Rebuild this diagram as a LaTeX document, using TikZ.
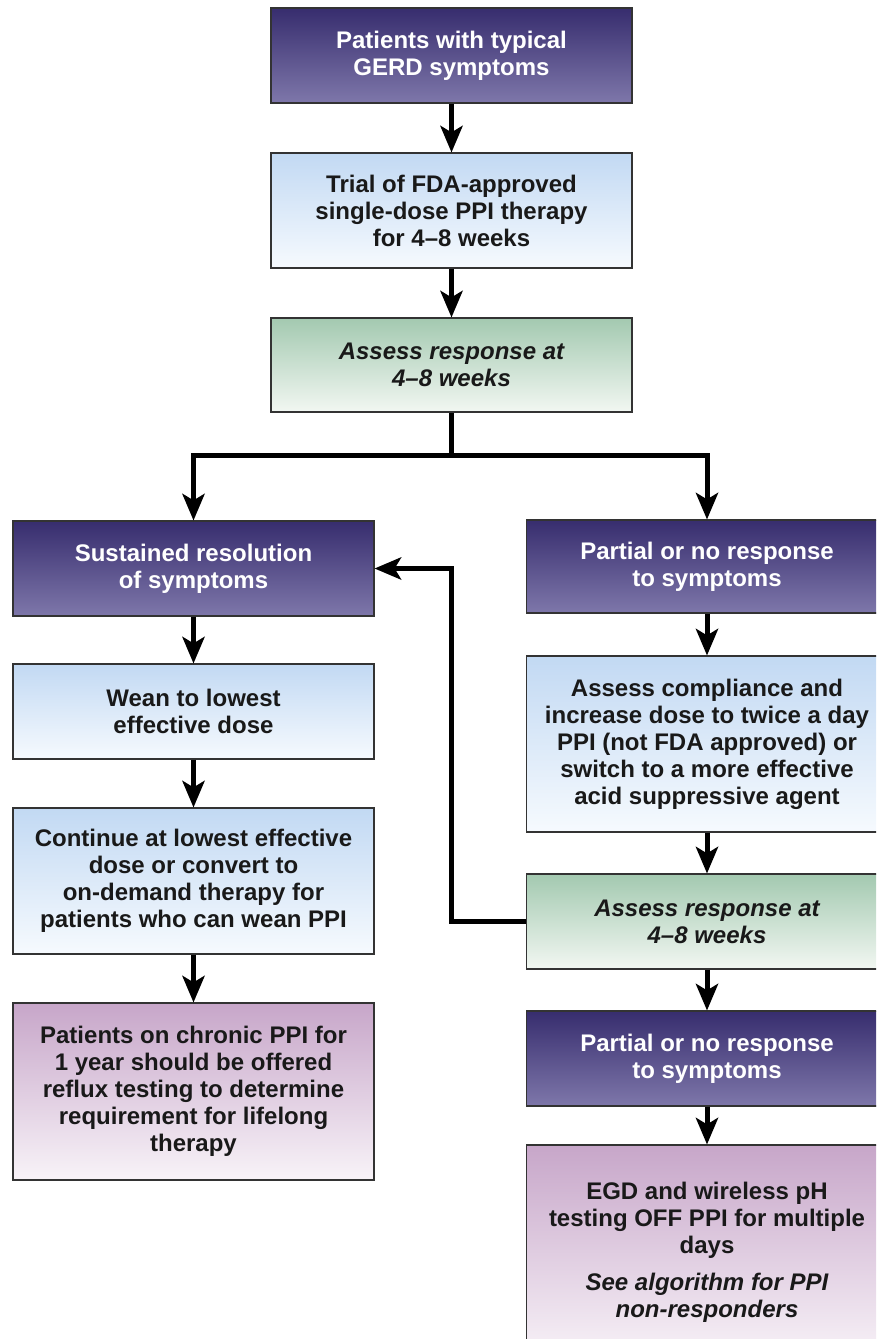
\documentclass[tikz,border=0pt]{standalone}
\usepackage{fontspec}
\setmainfont{Liberation Sans}
\usetikzlibrary{arrows.meta}
\definecolor{navytop}{RGB}{55,45,110}
\definecolor{navybot}{RGB}{126,119,170}
\definecolor{skytop}{RGB}{194,217,243}
\definecolor{skybot}{RGB}{246,250,254}
\definecolor{sagetop}{RGB}{163,201,176}
\definecolor{sagebot}{RGB}{242,247,242}
\definecolor{mauvetop}{RGB}{199,166,201}
\definecolor{mauvebot}{RGB}{248,243,248}

\begin{document}
\begin{tikzpicture}[x=1pt,y=-1pt,
	box/.style={draw=black!80,line width=1.3pt,minimum width=361pt,inner sep=0pt,align=center,
		text=black!90,font=\fontsize{24}{27}\selectfont\bfseries},
	navy/.style={box,top color=navytop,bottom color=navybot,text=white},
	sky/.style={box,top color=skytop,bottom color=skybot},
	sage/.style={box,top color=sagetop,bottom color=sagebot,font=\fontsize{24}{27}\selectfont\bfseries\itshape},
	mauve/.style={box,top color=mauvetop,bottom color=mauvebot},
	arr/.style={line width=5pt,-{Stealth[length=27pt,width=23pt,inset=7pt,line width=0pt]}},
	link/.style={line width=5pt}]
	\clip (0,0) rectangle (876,1339);
	% main trunk
	\node[navy,minimum height=95pt] (gerd) at (451.5,55.5) {Patients with typical\\GERD symptoms};
	\node[sky,minimum height=115pt] (trial) at (451.5,210.5) {Trial of FDA-approved\\single-dose PPI therapy\\for 4--8 weeks};
	\node[sage,minimum height=94pt] (assessA) at (451.5,365) {Assess response at\\4--8 weeks};
	% left branch
	\node[navy,minimum height=95pt] (sustained) at (193.5,568.5) {Sustained resolution\\of symptoms};
	\node[sky,minimum height=95pt] (wean) at (193.5,711.5) {Wean to lowest\\effective dose};
	\node[sky,minimum height=146pt] (cont) at (193.5,881) {Continue at lowest effective\\dose or convert to\\on-demand therapy for\\patients who can wean PPI};
	\node[mauve,minimum height=177pt] (chronic) at (193.5,1091.5) {Patients on chronic PPI for\\1 year should be offered\\reflux testing to determine\\requirement for lifelong\\therapy};
	% right branch
	\node[navy,minimum height=93pt] (partialA) at (707,566.5) {Partial or no response\\to symptoms};
	\node[sky,minimum height=176pt] (comply) at (707,744) {Assess compliance and\\increase dose to twice a day\\PPI (not FDA approved) or\\switch to a more effective\\acid suppressive agent};
	\node[sage,minimum height=95pt] (assessB) at (707,921.5) {Assess response at\\4--8 weeks};
	\node[navy,minimum height=95pt] (partialB) at (707,1058.5) {Partial or no response\\to symptoms};
	\node[mauve,minimum height=215pt] (egd) at (707,1252.5) {EGD and wireless pH\\testing OFF PPI for multiple\\days\\[10pt]\itshape See algorithm for PPI\\\itshape non-responders};

	\draw[arr] (gerd) -- (trial);
	\draw[arr] (trial) -- (assessA);
	\draw[link] (assessA.south) -- ++(0,43) coordinate (fork);
	\draw[arr] (fork) -| (sustained.north);
	\draw[arr] (fork) -| (partialA.north);
	\draw[arr] (sustained) -- (wean);
	\draw[arr] (wean) -- (cont);
	\draw[arr] (cont) -- (chronic);
	\draw[arr] (partialA) -- (comply);
	\draw[arr] (comply) -- (assessB);
	\draw[arr] (assessB.west) -- ++(-74,0) |- (sustained.east);
	\draw[arr] (assessB) -- (partialB);
	\draw[arr] (partialB) -- (egd);
\end{tikzpicture}
\end{document}
